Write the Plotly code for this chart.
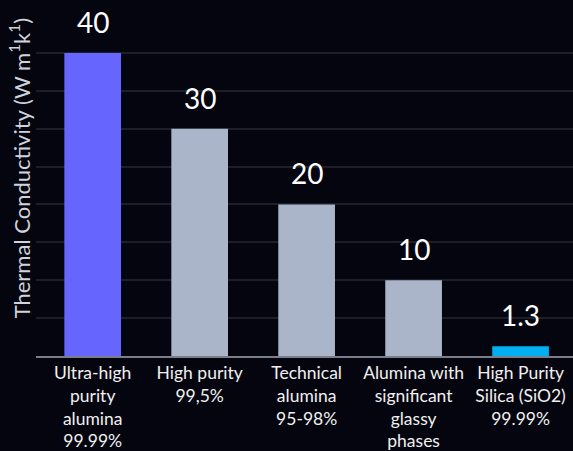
import plotly.graph_objects as go

categories = [
    "Ultra-high<br>purity<br>alumina<br>99.99%",
    "High purity<br>99,5%",
    "Technical<br>alumina<br>95-98%",
    "Alumina with<br>significant<br>glassy<br>phases",
    "High Purity<br>Silica (SiO2)<br>99.99%",
]
values = [40, 30, 20, 10, 1.3]
value_labels = ["40", "30", "20", "10", "1.3"]
bar_colors = ["#6666ff", "#abb5c9", "#abb5c9", "#abb5c9", "#00b0f0"]

BG = "#05050f"
FONT = "Lato"

fig = go.Figure()
fig.add_trace(go.Bar(
    x=categories, y=values, marker=dict(color=bar_colors, line=dict(width=0)),
    width=0.53, hoverinfo="skip",
))

for c, v, t in zip(categories, values, value_labels):
    fig.add_annotation(x=c, y=v, text=t, showarrow=False, yanchor="bottom",
                       yshift=12, font=dict(family=FONT, size=28, color="#ffffff"))

fig.add_annotation(
    text="Thermal Conductivity (W m<sup>1</sup>k<sup>1</sup>)",
    xref="paper", yref="paper", x=-0.03, y=0.55, xanchor="center", yanchor="middle",
    textangle=-90, showarrow=False,
    font=dict(family=FONT, size=22, color="#cfd3db"),
)

fig.update_layout(
    width=573, height=451,
    margin=dict(l=36, r=0, t=15, b=95),
    paper_bgcolor=BG, plot_bgcolor=BG,
    showlegend=False,
    font=dict(family=FONT, color="#eeeeee"),
    xaxis=dict(
        range=[-0.53, 4.49], showgrid=False, showline=True, linecolor="#7a7e8a",
        linewidth=2, ticks="", tickangle=0,
        tickfont=dict(family=FONT, size=17.5, color="#f0f0f0"),
        fixedrange=True,
    ),
    yaxis=dict(
        range=[0, 45], dtick=5, showgrid=True, gridcolor="#1d1f28", gridwidth=1.5,
        showticklabels=False, zeroline=False, ticks="", fixedrange=True,
    ),
)

fig.write_html(
    "out.html",
    config={"displayModeBar": False},
    post_script="document.body.style.margin='0';document.body.style.background='%s';" % BG,
)
